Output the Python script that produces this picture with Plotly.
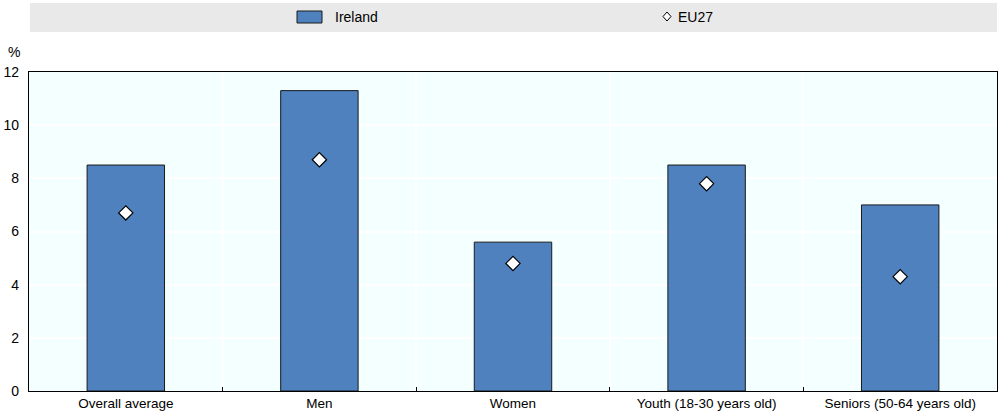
import plotly.graph_objects as go

categories = ["Overall average", "Men", "Women", "Youth (18-30 years old)", "Seniors (50-64 years old)"]
ireland = [8.5, 11.3, 5.6, 8.5, 7.0]
eu27 = [6.7, 8.7, 4.8, 7.8, 4.3]
y_ticks = [0, 2, 4, 6, 8, 10, 12]

FONT = "Liberation Sans, Arial, sans-serif"
W, H = 1000, 414
ML, MR, MT, MB = 29, 3, 72, 23
PW, PH = W - ML - MR, H - MT - MB


def px(x):
    return (x - ML) / PW


def py(y):
    return (H - MB - y) / PH


fig = go.Figure()
fig.add_trace(go.Bar(
    x=categories, y=ireland, name="Ireland",
    marker=dict(color="#4E81BD", line=dict(color="#1a1a1a", width=1)),
    width=0.4, showlegend=False,
))
fig.add_trace(go.Scatter(
    x=categories, y=eu27, name="EU27", mode="markers", showlegend=False,
    marker=dict(symbol="diamond", size=11, color="white", line=dict(color="black", width=1.2)),
))

shapes = [
    # legend band
    dict(type="rect", xref="paper", yref="paper", x0=px(30), x1=px(997),
         y0=py(32), y1=py(3), fillcolor="#E9E9E9", line=dict(width=0), layer="below"),
    # Ireland swatch
    dict(type="rect", xref="paper", yref="paper", x0=px(297), x1=px(322),
         y0=py(23), y1=py(11), fillcolor="#4E81BD", line=dict(color="#1a1a1a", width=1)),
    # EU27 diamond
    dict(type="path", xref="paper", yref="paper",
         path=f"M {px(667)},{py(12)} L {px(671)},{py(16.5)} L {px(667)},{py(21)} L {px(663)},{py(16.5)} Z",
         fillcolor="white", line=dict(color="black", width=1)),
]

annotations = [
    dict(text="%", xref="paper", yref="paper", x=px(14), y=py(52),
         xanchor="center", yanchor="middle", showarrow=False, font=dict(family=FONT, size=14)),
    dict(text="Ireland", xref="paper", yref="paper", x=px(333), y=py(17),
         xanchor="left", yanchor="middle", showarrow=False, font=dict(family=FONT, size=14)),
    dict(text="EU27", xref="paper", yref="paper", x=px(676), y=py(17),
         xanchor="left", yanchor="middle", showarrow=False, font=dict(family=FONT, size=14)),
]

fig.update_layout(
    width=W, height=H,
    margin=dict(l=ML, r=MR, t=MT, b=MB),
    paper_bgcolor="white",
    plot_bgcolor="#F4FFFF",
    font=dict(family=FONT, size=14, color="black"),
    showlegend=False,
    shapes=shapes,
    annotations=annotations,
)

fig.update_xaxes(
    showline=True, linecolor="black", linewidth=1.2, mirror=True,
    ticks="inside", tickson="boundaries", ticklen=4, tickcolor="black",
    showgrid=True, gridcolor="white", gridwidth=1.5,
    tickfont=dict(family=FONT, size=13.5),
)
fig.update_yaxes(
    range=[0, 12], tickvals=y_ticks,
    showline=True, linecolor="black", linewidth=1.2, mirror=True,
    showgrid=True, gridcolor="white", gridwidth=1.5,
    zeroline=False, ticks="", ticklabelstandoff=6,
    tickfont=dict(family=FONT, size=14),
)

fig.write_html("out.html")
